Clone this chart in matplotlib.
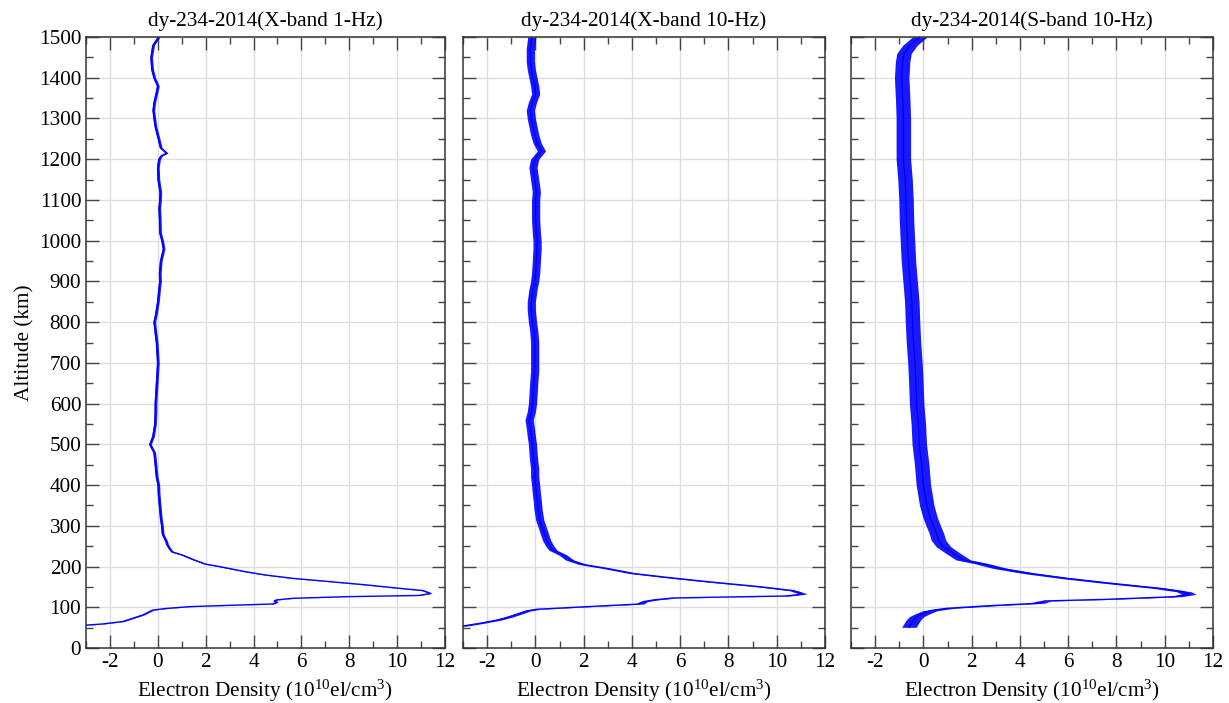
import matplotlib
matplotlib.use("Agg")
import matplotlib.pyplot as plt
from matplotlib.ticker import MultipleLocator
import numpy as np

plt.rcParams['font.family'] = ['Liberation Serif', 'DejaVu Serif']
plt.rcParams['mathtext.fontset'] = 'custom'
plt.rcParams['mathtext.rm'] = 'Liberation Serif'
plt.rcParams['mathtext.it'] = 'Liberation Serif:italic'
plt.rcParams['axes.unicode_minus'] = False

titles = ["dy-234-2014(X-band 1-Hz)", "dy-234-2014(X-band 10-Hz)", "dy-234-2014(S-band 10-Hz)"]
xlabel = "Electron Density (10$^{10}$el/cm$^{3}$)"
ylabel = "Altitude (km)"

# Panel 1: X-band 1-Hz (altitude km, density 1e10 el/cm^3)
p1_alt = [52, 55, 59, 65, 73, 81, 89, 93, 97, 101.5, 104.8, 108, 113, 115.4, 118, 122, 126, 129,
          134, 141, 146.5, 155, 163, 171, 179, 187, 200, 206, 216, 228, 236, 245, 255, 262, 280,
          300, 320, 340, 360, 380, 400, 420, 450, 480, 500, 520, 550, 580, 600, 620, 650, 700,
          750, 800, 820, 850, 880, 900, 920, 950, 980, 1000, 1020, 1050, 1080, 1100, 1120, 1150,
          1180, 1200, 1208, 1215, 1228, 1250, 1280, 1300, 1320, 1340, 1360, 1380, 1400, 1420,
          1450, 1480, 1500]
p1_ne = [-4.0, -3.28, -2.31, -1.47, -1.05, -0.63, -0.36, -0.22, 0.34, 1.32, 3.0, 4.8, 4.98, 4.87,
         4.95, 5.64, 7.88, 10.9, 11.4, 11.08, 10.1, 8.7, 7.18, 5.64, 4.53, 3.69, 2.57, 2.0, 1.53,
         1.04, 0.6, 0.48, 0.38, 0.35, 0.2, 0.17, 0.12, 0.09, 0.06, 0.03, 0.02, -0.05, -0.1, -0.15,
         -0.33, -0.2, -0.12, -0.1, -0.1, -0.08, -0.05, 0.0, -0.05, -0.15, -0.08, 0.0, 0.05, 0.09,
         0.08, 0.12, 0.24, 0.18, 0.09, 0.08, 0.06, 0.09, 0.1, 0.02, 0.0, 0.05, 0.13, 0.37, 0.12,
         0.03, -0.1, -0.15, -0.19, -0.15, -0.07, 0.0, -0.15, -0.24, -0.28, -0.2, 0.03]
p1_spread = 0.06

# Panel 2: X-band 10-Hz
p2_alt = [50, 54, 60.6, 69, 77, 85, 91, 95, 101.4, 108, 113.8, 118, 122.8, 127.7, 132.6, 140.7,
          150.5, 163, 173.5, 183, 195.5, 205, 216, 228, 240, 250, 265, 290, 314, 340, 360, 380,
          400, 420, 440, 460, 480, 500, 520, 540, 560, 580, 600, 620, 650, 680, 700, 720, 750,
          780, 800, 830, 850, 880, 900, 920, 950, 980, 1000, 1020, 1050, 1080, 1100, 1120, 1150,
          1180, 1200, 1210, 1220, 1240, 1260, 1280, 1300, 1320, 1340, 1360, 1380, 1400, 1420,
          1440, 1470, 1500]
p2_ne = [-4.0, -3.0, -2.3, -1.55, -1.06, -0.65, -0.37, 0.04, 2.1, 4.33, 4.47, 4.9, 5.7, 10.4, 11.1,
         10.7, 9.3, 7.1, 5.44, 4.05, 2.95, 1.98, 1.42, 1.15, 0.73, 0.6, 0.46, 0.32, 0.18, 0.11,
         0.08, 0.04, 0.01, -0.03, -0.03, -0.07, -0.1, -0.12, -0.17, -0.21, -0.26, -0.17, -0.12,
         -0.1, -0.07, -0.03, -0.03, -0.03, -0.03, -0.07, -0.12, -0.17, -0.17, -0.1, -0.03, 0.01,
         0.04, 0.07, 0.07, 0.04, 0.01, 0.01, 0.01, 0.04, -0.03, -0.1, -0.03, 0.11, 0.25, 0.07,
         -0.03, -0.1, -0.17, -0.21, -0.12, 0.01, -0.03, -0.1, -0.17, -0.21, -0.21, -0.15]
p2_spread = 0.17

# Panel 3: S-band 10-Hz
p3_alt = [50.8, 60.6, 69, 77, 85, 91.6, 97.4, 104, 109.7, 115.4, 119.5, 126, 131.8, 138, 146.5,
          159, 171, 183, 195.5, 208, 216, 232, 248.7, 265, 280, 300, 320, 350, 400, 450, 500,
          550, 600, 650, 700, 750, 800, 850, 900, 950, 1000, 1050, 1100, 1150, 1200, 1250, 1300,
          1350, 1400, 1440, 1460, 1480, 1500]
p3_ne = [-0.6, -0.5, -0.41, -0.28, 0.0, 0.28, 0.97, 2.77, 4.7, 5.0, 7.6, 10.4, 11.0, 10.8, 9.8,
         7.75, 5.95, 4.43, 3.18, 2.35, 1.66, 1.24, 0.83, 0.62, 0.55, 0.41, 0.28, 0.14, 0.0,
         -0.07, -0.17, -0.21, -0.28, -0.31, -0.35, -0.41, -0.45, -0.48, -0.55, -0.62, -0.66,
         -0.7, -0.72, -0.76, -0.83, -0.83, -0.83, -0.86, -0.9, -0.86, -0.8, -0.55, -0.15]
p3_spread = 0.3

profiles = [(p1_alt, p1_ne, p1_spread), (p2_alt, p2_ne, p2_spread), (p3_alt, p3_ne, p3_spread)]

fig = plt.figure(figsize=(12.29, 7.03), dpi=100)
lefts = [86, 463, 851]
widths = [359, 362, 362]
W, H = 1229, 703
bottom = 1 - 648 / H
height = 611 / H
fs = 15.3

blue = '#0000ff'
for i, (alt, ne, spread) in enumerate(profiles):
    ax = fig.add_axes([lefts[i] / W, bottom, widths[i] / W, height])
    alt = np.asarray(alt)
    ne = np.asarray(ne)
    ax.fill_betweenx(alt, ne - spread, ne + spread, color=blue, lw=0, alpha=0.9)
    ax.plot(ne, alt, color=blue, lw=1.0)
    ax.set_xlim(-3, 12)
    ax.set_ylim(0, 1500)
    ax.xaxis.set_major_locator(MultipleLocator(2))
    ax.xaxis.set_minor_locator(MultipleLocator(1))
    ax.yaxis.set_major_locator(MultipleLocator(100))
    ax.yaxis.set_minor_locator(MultipleLocator(50))
    ax.grid(True, which='major', color='#dedede', lw=1.0)
    ax.set_axisbelow(True)
    ax.tick_params(which='both', direction='in', top=True, right=True, color='#444444',
                   labelsize=fs)
    ax.tick_params(which='major', length=9.5, width=1.0)
    ax.tick_params(which='minor', length=5, width=1.0)
    for s in ax.spines.values():
        s.set_color('#333333')
        s.set_linewidth(1.1)
    ax.set_title(titles[i], fontsize=fs, pad=8)
    ax.set_xlabel(xlabel, fontsize=fs, labelpad=4)
    if i == 0:
        ax.set_ylabel(ylabel, fontsize=fs, labelpad=3)
    else:
        ax.tick_params(axis='y', labelleft=False)

fig.savefig('out.png', dpi=100)
